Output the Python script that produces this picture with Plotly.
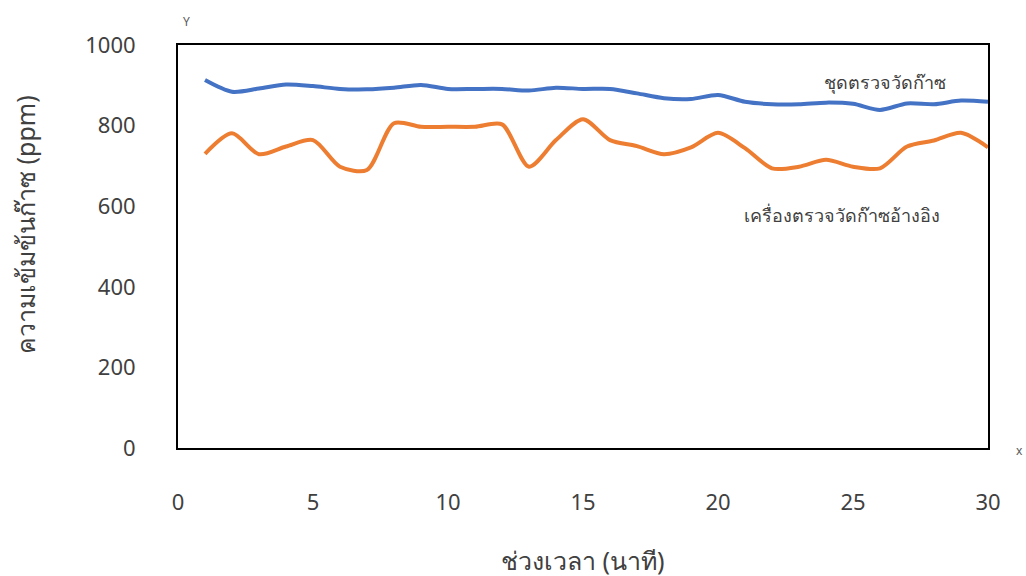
import plotly.graph_objects as go

# time in minutes
minutes = list(range(1, 31))

# gas concentration (ppm) from the test kit
kit_ppm = [913, 884, 892, 902, 898, 891, 890, 894, 901, 891,
           891, 891, 887, 894, 891, 891, 880, 868, 866, 876,
           859, 853, 853, 857, 854, 839, 855, 853, 862, 859]

# gas concentration (ppm) from the reference instrument
ref_ppm = [730, 781, 729, 748, 764, 698, 690, 806, 797, 797,
           797, 803, 698, 764, 816, 764, 749, 729, 746, 782,
           744, 694, 698, 715, 698, 694, 748, 763, 782, 746]

x_ticks = [0, 5, 10, 15, 20, 25, 30]
y_ticks = [0, 200, 400, 600, 800, 1000]

W, H = 1026, 576
ML, MR, MT, MB = 178, 38, 45, 128
PW, PH = W - ML - MR, H - MT - MB

fig = go.Figure()
fig.add_trace(go.Scatter(
    x=minutes, y=kit_ppm, mode="lines",
    line=dict(color="#4472C4", width=4, shape="spline", smoothing=0.8),
    name="ชุดตรวจวัดก๊าซ", showlegend=False))
fig.add_trace(go.Scatter(
    x=minutes, y=ref_ppm, mode="lines",
    line=dict(color="#ED7D31", width=4, shape="spline", smoothing=0.8),
    name="เครื่องตรวจวัดก๊าซอ้างอิง", showlegend=False))

text_col = "#404040"

fig.update_layout(
    width=W, height=H,
    margin=dict(l=ML, r=MR, t=MT, b=MB, autoexpand=False),
    paper_bgcolor="white", plot_bgcolor="white",
    font=dict(family="Noto Sans", color=text_col),
    xaxis=dict(
        range=[0, 30], tickvals=x_ticks, showgrid=False, zeroline=False,
        showline=True, linecolor="black", linewidth=2, mirror=True,
        ticks="", ticklabelstandoff=34, automargin=False,
        tickfont=dict(size=22, color=text_col),
    ),
    yaxis=dict(
        range=[0, 1000], tickvals=y_ticks, showgrid=False, zeroline=False,
        showline=True, linecolor="black", linewidth=2, mirror=True,
        ticks="", ticklabelstandoff=36, automargin=False,
        tickfont=dict(size=22, color=text_col),
    ),
    annotations=[
        # axis titles
        dict(x=(583 - ML) / PW, y=-(560 - (MT + PH)) / PH, xref="paper", yref="paper",
             text="ช่วงเวลา (นาที)", showarrow=False,
             xanchor="center", yanchor="middle", font=dict(size=25, color=text_col)),
        dict(x=-(ML - 25) / PW, y=(MT + PH - 225) / PH, xref="paper", yref="paper",
             text="ความเข้มข้นก๊าซ (ppm)", showarrow=False, textangle=-90,
             xanchor="center", yanchor="middle", font=dict(size=25, color=text_col)),
        # series labels
        dict(x=23.85, y=908, xref="x", yref="y", text="ชุดตรวจวัดก๊าซ",
             showarrow=False, xanchor="left", font=dict(size=18, color=text_col)),
        dict(x=20.9, y=577, xref="x", yref="y", text="เครื่องตรวจวัดก๊าซอ้างอิง",
             showarrow=False, xanchor="left", font=dict(size=18, color=text_col)),
        # small axis letters
        dict(x=(186 - ML) / PW, y=1 + (MT - 21) / PH, xref="paper", yref="paper",
             text="Y", showarrow=False, xanchor="center", yanchor="middle",
             font=dict(size=12, color="#595959")),
        dict(x=1 + (1020 - 988) / PW, y=-(450 - (MT + PH)) / PH, xref="paper", yref="paper",
             text="x", showarrow=False, xanchor="center", yanchor="middle",
             font=dict(size=12, color="#595959")),
    ],
)

fig.write_html("out.html")
